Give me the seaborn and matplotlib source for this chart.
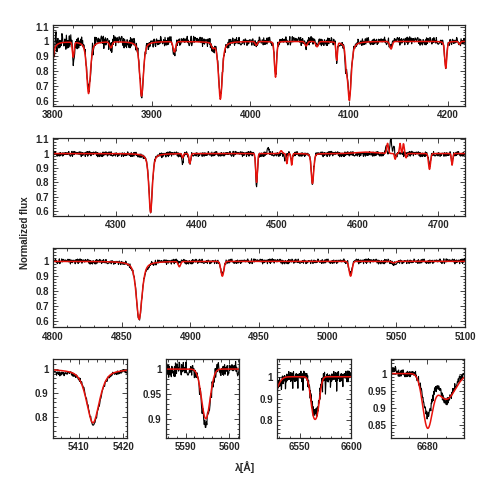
import numpy as np
import matplotlib
matplotlib.use("Agg")
import matplotlib.pyplot as plt
import seaborn as sns
from matplotlib.ticker import MultipleLocator, FuncFormatter

# absorption / emission lines: centre [A], depth, FWHM [A], lorentz fraction
# (negative depth = emission)
P1_MOD = dict(c=[3797.5, 3820.5, 3836.0, 3858.6, 3889.7, 3923.0, 3962.0, 3969.6, 4006.0, 4025.5,
                 4056.5, 4067.6, 4087.5, 4097.0, 4100.3, 4142.5, 4198.0, 4212.0],
              d=[0.35, 0.10, 0.35, 0.04, 0.37, 0.07, 0.03, 0.39, 0.025, 0.24,
                 0.03, 0.035, 0.12, 0.08, 0.40, 0.05, 0.18, 0.02],
              w=[4.0, 2.0, 4.5, 3.0, 4.5, 3.0, 3.0, 4.5, 2.5, 2.5,
                 3.0, 3.0, 1.8, 2.0, 4.5, 3.0, 2.5, 2.0],
              e=[0.7, 0.0, 0.6, 0.0, 0.6, 0.0, 0.0, 0.6, 0.0, 0.2,
                 0.0, 0.0, 0.0, 0.0, 0.6, 0.0, 0.3, 0.0])
P1_OBS = dict(c=[3797.5, 3803.0, 3820.5, 3829.0, 3836.0, 3858.6, 3889.7, 3923.0, 3962.0, 3969.6,
                 4006.0, 4025.5, 4056.5, 4067.6, 4087.5, 4096.5, 4100.3, 4142.5, 4198.0, 4212.0],
              d=[0.30, -0.09, 0.14, -0.07, 0.34, 0.05, 0.36, 0.08, 0.06, 0.38,
                 0.02, 0.23, 0.03, 0.04, 0.13, 0.11, 0.38, 0.05, 0.17, 0.02],
              w=[4.0, 0.8, 2.0, 1.0, 4.5, 3.0, 4.5, 3.0, 3.0, 4.5,
                 2.5, 2.5, 3.0, 3.0, 1.8, 2.0, 4.5, 3.0, 2.5, 2.0],
              e=[0.7, 0.0, 0.0, 0.0, 0.6, 0.0, 0.6, 0.0, 0.0, 0.6,
                 0.0, 0.2, 0.0, 0.0, 0.0, 0.0, 0.6, 0.0, 0.3, 0.0])

P2_MOD = dict(c=[4343.0, 4382.8, 4391.7, 4474.5, 4505.0, 4512.0, 4518.0, 4543.8, 4610.0,
                 4637.0, 4646.4, 4652.5, 4656.7, 4660.0, 4689.0, 4717.0],
              d=[0.41, 0.03, 0.07, 0.20, -0.02, 0.07, 0.08, 0.21, -0.01,
                 -0.07, 0.04, -0.07, -0.07, 0.03, 0.11, 0.08],
              w=[5.0, 2.0, 2.5, 2.5, 3.0, 2.0, 2.0, 3.5, 30.0,
                 2.5, 2.0, 2.0, 2.0, 2.0, 3.0, 2.0],
              e=[0.6, 0.0, 0.0, 0.0, 0.0, 0.0, 0.0, 0.3, 0.0,
                 0.0, 0.0, 0.0, 0.0, 0.0, 0.0, 0.0])
P2_OBS = dict(c=[4343.0, 4382.8, 4391.7, 4474.5, 4489.0, 4510.0, 4518.0, 4543.8,
                 4635.0, 4641.0, 4644.5, 4648.0, 4689.0, 4717.0],
              d=[0.40, 0.06, 0.07, 0.24, -0.05, 0.04, 0.05, 0.20,
                 -0.06, -0.10, -0.06, 0.02, 0.08, 0.07],
              w=[5.0, 2.0, 2.5, 2.5, 2.0, 2.0, 2.0, 3.5,
                 2.0, 2.5, 2.0, 2.0, 3.0, 2.0],
              e=[0.6, 0.0, 0.0, 0.0, 0.0, 0.0, 0.0, 0.3,
                 0.0, 0.0, 0.0, 0.0, 0.0, 0.0])

P3_MOD = dict(c=[4862.7, 4892.0, 4923.3, 5016.7, 5048.0],
              d=[0.39, 0.035, 0.10, 0.10, 0.01],
              w=[5.0, 2.0, 2.5, 2.5, 3.0],
              e=[0.6, 0.0, 0.0, 0.0, 0.0])
P3_OBS = dict(c=[4862.7, 4869.0, 4892.0, 4923.3, 5016.7, 5048.0],
              d=[0.39, 0.02, 0.01, 0.09, 0.09, 0.02],
              w=[5.0, 2.5, 2.0, 2.5, 2.5, 3.0],
              e=[0.6, 0.0, 0.0, 0.0, 0.0, 0.0])

PA_MOD = dict(c=[5413.2], d=[0.225], w=[3.5], e=[0.6])
PA_OBS = dict(c=[5406.0, 5413.3], d=[0.012, 0.225], w=[3.0, 3.4], e=[0.0, 0.6])

PB_MOD = dict(c=[5594.6], d=[0.10], w=[2.3], e=[0.0])
PB_OBS = dict(c=[5594.6], d=[0.11], w=[2.3], e=[0.0])

PC_MOD = dict(c=[6522.0, 6562.7, 6567.0], d=[0.10, 0.14, 0.14], w=[12.0, 6.0, 6.0], e=[0.0, 0.0, 0.0])
PC_OBS = dict(c=[6522.0, 6532.0, 6536.0, 6543.0, 6548.0, 6553.0, 6562.7, 6567.0,
                 6572.0, 6575.0, 6580.0, 6586.0, 6592.0],
              d=[0.10, 0.05, 0.06, 0.08, 0.05, 0.04, 0.125, 0.12,
                 0.04, 0.06, 0.05, 0.05, 0.04],
              w=[12.0, 0.4, 0.4, 0.4, 0.4, 0.4, 6.0, 6.0,
                 0.4, 0.4, 0.4, 0.4, 0.4],
              e=[0.0] * 13)

PD_MOD = dict(c=[6680.0, 6685.0], d=[0.15, 0.075], w=[3.0, 5.8], e=[0.0, 0.0])
PD_OBS = dict(c=[6671.0, 6680.0, 6685.2], d=[-0.012, 0.12, 0.08], w=[1.5, 3.0, 4.2], e=[0.0, 0.0, 0.0])

# hand-typed residual pattern (in units of the panel noise level)
NOISE = [
    0.42, -0.81, 0.13, 0.97, -0.35, -1.22, 0.58, 0.24, -0.66, 1.31,
    -0.09, -0.47, 0.85, -1.05, 0.31, 0.66, -0.28, -0.93, 1.12, 0.07,
    -0.55, 0.39, -1.37, 0.72, 0.18, -0.24, 0.94, -0.71, -0.12, 0.51,
    1.05, -0.88, 0.27, -0.43, 0.63, -1.16, 0.05, 0.79, -0.31, -0.64,
    1.24, -0.19, 0.46, -0.97, 0.15, 0.88, -0.52, -1.08, 0.34, 0.69,
    -0.26, 0.11, -0.78, 1.17, -0.41, 0.56, -0.04, -1.29, 0.82, 0.21,
    -0.61, 0.99, -0.15, -0.84, 0.47, 0.03, 1.09, -0.57, -0.36, 0.74,
    -1.11, 0.29, 0.61, -0.21, -0.95, 1.36, -0.07, 0.43, -0.69, 0.17,
    0.91, -1.02, 0.36, -0.29, 0.67, -0.49, -0.13, 1.19, -0.83, 0.09,
    0.54, -0.38, -1.19, 0.77, 0.25, -0.58, 0.96, -0.17, -0.74, 0.38,
    1.14, -0.45, 0.02, -0.91, 0.59, 0.33, -1.25, 0.86, -0.11, -0.53,
    0.71, 0.19, -0.67, 1.03, -0.33, -0.87, 0.44, 0.08, 1.27, -0.62,
    -0.23, 0.52, -1.07, 0.14, 0.81, -0.39, 0.26, -0.76, 1.08, -0.02,
    -0.98, 0.64, 0.31, -0.44, 0.89, -1.31, 0.12, 0.57, -0.18, -0.72,
    1.21, -0.06, 0.37, -0.89, 0.68, -0.27, -1.14, 0.93, 0.22, -0.51,
    0.45, -0.14, 1.01, -0.79, 0.06, -0.34, 0.76, -1.03, 0.28, 0.62,
    -0.46, -0.08, 1.16, -0.68, 0.35, -1.21, 0.53, 0.16, -0.59, 0.92,
    -0.25, 0.73, -0.94, 0.04, 1.33, -0.42, -0.16, 0.49, -0.86, 0.23,
    0.84, -1.17, 0.41, -0.32, 0.65, -0.05, -0.77, 1.11, -0.54, 0.18,
    -0.99, 0.55, 0.32, -0.63, 0.98, -0.22, -1.09, 0.75, 0.01, -0.37,
]

# noise level knots for the blue panel (noisier at the blue end)
P1_NOISE_WAVE = [3800, 3860, 3960, 4220]
P1_NOISE_AMP = [0.05, 0.032, 0.024, 0.02]

# panel settings: (lines model, lines obs, xlim, ylim, step, noise, xmajor, xminor, ymajor, yminor, offset)
PANELS = [
    (P1_MOD, P1_OBS, (3800, 4217.5), (0.565, 1.11), 0.5, None, 100, 20, 0.1, 0.02, 0.003),
    (P2_MOD, P2_OBS, (4222, 4733), (0.565, 1.105), 0.5, 0.014, 100, 20, 0.1, 0.02, -0.003),
    (P3_MOD, P3_OBS, (4800, 5100), (0.555, 1.09), 0.35, 0.013, 50, 10, 0.1, 0.02, 0.0),
    (PA_MOD, PA_OBS, (5404.1, 5420.9), (0.713, 1.04), 0.12, 0.007, 10, 2, 0.1, 0.02, -0.004),
    (PB_MOD, PB_OBS, (5585.4, 5602.3), (0.862, 1.02), 0.12, 0.012, 10, 2, 0.05, 0.01, 0.0),
    (PC_MOD, PC_OBS, (6528, 6600), (0.72, 1.081), 0.22, 0.02, 50, 10, 0.1, 0.02, 0.0),
    (PD_MOD, PD_OBS, (6670.2, 6689.9), (0.813, 1.042), 0.1, 0.009, 10, 5, 0.05, 0.01, 0.0),
]

AX_POS = [
    [0.108, 0.784, 0.839, 0.165],
    [0.108, 0.560, 0.839, 0.158],
    [0.108, 0.333, 0.839, 0.162],
    [0.107, 0.1086, 0.152, 0.160],
    [0.3375, 0.1086, 0.150, 0.160],
    [0.565, 0.1086, 0.150, 0.160],
    [0.796, 0.1086, 0.150, 0.160],
]


def spectrum(wave, lines):
    flux = np.ones_like(wave)
    for c, d, w, e in zip(lines['c'], lines['d'], lines['w'], lines['e']):
        x = (wave - c) / (w / 2.0)
        flux -= d * (e / (1 + x ** 2) + (1 - e) * np.exp(-np.log(2) * x ** 2))
    return flux


sns.set_style("ticks")
plt.rcParams['font.family'] = ['Liberation Sans', 'DejaVu Sans']
plt.rcParams['font.weight'] = 'bold'

fig = plt.figure(figsize=(4.91, 4.91), dpi=100)
noise = np.array(NOISE)
fmt = FuncFormatter(lambda v, p: f'{v:g}')

for k, (mod, obs, xlim, ylim, step, namp, xmaj, xmin, ymaj, ymin, off) in enumerate(PANELS):
    ax = fig.add_axes(AX_POS[k])
    wave = np.arange(xlim[0] - 1, xlim[1] + 1, step)
    idx = (np.arange(len(wave)) * 7 + 31 * k) % len(noise)
    if namp is None:
        amp = np.interp(wave, P1_NOISE_WAVE, P1_NOISE_AMP)
    else:
        amp = namp
    f_obs = spectrum(wave, obs) + off + amp * noise[idx]
    f_mod = spectrum(wave, mod)

    sns.lineplot(x=wave, y=f_obs, ax=ax, color='black', lw=0.8, estimator=None, sort=False)
    sns.lineplot(x=wave, y=f_mod, ax=ax, color='#e8120c', lw=1.1, estimator=None, sort=False)

    ax.set_xlim(*xlim)
    ax.set_ylim(*ylim)
    ax.xaxis.set_major_locator(MultipleLocator(xmaj))
    ax.xaxis.set_minor_locator(MultipleLocator(xmin))
    ax.yaxis.set_major_locator(MultipleLocator(ymaj))
    ax.yaxis.set_minor_locator(MultipleLocator(ymin))
    ax.xaxis.set_major_formatter(fmt)
    ax.yaxis.set_major_formatter(fmt)
    ax.tick_params(which='both', direction='in', top=True, right=True, labelsize=7,
                   width=0.6, pad=3)
    ax.tick_params(which='major', length=3.5)
    ax.tick_params(which='minor', length=1.8)
    for s in ax.spines.values():
        s.set_linewidth(0.9)
    ax.set_xlabel('')
    ax.set_ylabel('')

fig.text(0.05, 0.527, 'Normalized flux', rotation=90, ha='center', va='center', fontsize=7)
fig.text(0.5, 0.048, 'λ[Å]', ha='center', va='center', fontsize=7.5)

fig.savefig('out.png', dpi=100)
